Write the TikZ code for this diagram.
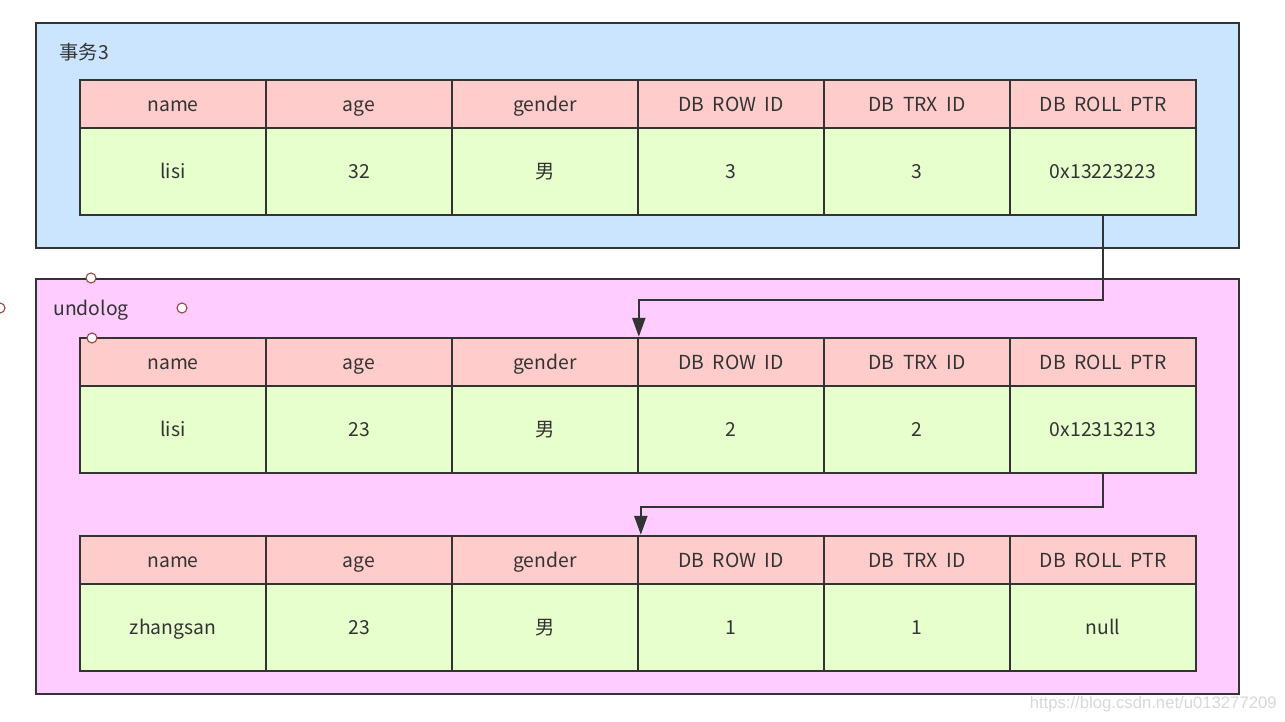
\documentclass[tikz,border=0pt]{standalone}
\usepackage{fontspec}
\setmainfont{Noto Sans CJK SC}
\newfontfamily\markfont{Liberation Sans}
\usepackage{tikz}
\usetikzlibrary{arrows.meta, positioning, calc}
\definecolor{trxblue}{RGB}{204,229,255}
\definecolor{undopink}{RGB}{255,204,255}
\definecolor{headred}{RGB}{255,204,204}
\definecolor{rowgreen}{RGB}{230,255,204}
\definecolor{linegray}{RGB}{51,51,51}
\definecolor{handlered}{RGB}{160,60,60}
\definecolor{markgray}{RGB}{215,215,215}

\begin{document}
\begin{tikzpicture}[
    frame/.style={rectangle, draw=linegray, line width=1.35pt, inner sep=0pt},
    head/.style={rectangle, draw=linegray, line width=1.35pt, fill=headred, minimum width=3.72cm, minimum height=0.96cm, inner sep=0pt, text height=1.8ex, text depth=0.3ex, font=\fontsize{11}{13}\selectfont, text=linegray},
    cell/.style={rectangle, draw=linegray, line width=1.35pt, fill=rowgreen, minimum width=3.72cm, minimum height=1.74cm, inner sep=0pt, text height=1.8ex, text depth=0.3ex, font=\fontsize{11}{13}\selectfont, text=linegray},
    title/.style={anchor=west, inner sep=0pt, font=\fontsize{11}{13}\selectfont, text=linegray},
    arrow/.style={-{Triangle[length=3.8mm, width=2.6mm]}, draw=linegray, line width=1.35pt},
    handle/.style={circle, draw=handlered, fill=white, line width=0.6pt, minimum size=0.2cm, inner sep=0pt}
]
\useasboundingbox (0,0) rectangle (25.7,-14.44);

% Transaction 3
\node[frame, fill=trxblue, minimum width=24.06cm, minimum height=4.5cm] (trx) at (12.75,-2.71) {};
\node[title] (trxlabel) at (1.18,-1.04) {事务3};

% Undo log
\node[frame, fill=undopink, minimum width=24.06cm, minimum height=8.3cm] (undo) at (12.75,-9.73) {};
\node[title] (undolabel) at (1.06,-6.2) {undolog};

% header rows
\foreach \t/\y in {1/-2.08, 2/-7.24, 3/-11.2} {
  \foreach \txt [count=\i] in {name, age, gender, DB\hspace{0.45em}ROW\hspace{0.45em}ID, DB\hspace{0.45em}TRX\hspace{0.45em}ID, DB\hspace{0.45em}ROLL\hspace{0.45em}PTR} {
    \node[head] (t\t h\i) at ({3.46+3.72*(\i-1)},\y) {\txt};
  }
}

% data rows
\foreach \txt [count=\i] in {lisi, 32, 男, 3, 3, 0x13223223}
  \node[cell] (t1d\i) at ({3.46+3.72*(\i-1)},-3.43) {\txt};
\foreach \txt [count=\i] in {lisi, 23, 男, 2, 2, 0x12313213}
  \node[cell] (t2d\i) at ({3.46+3.72*(\i-1)},-8.59) {\txt};
\foreach \txt [count=\i] in {zhangsan, 23, 男, 1, 1, null}
  \node[cell] (t3d\i) at ({3.46+3.72*(\i-1)},-12.55) {\txt};

% roll pointers
\draw[arrow] (t1d6.south) -- ++(0,-1.68) -| ($(t2h4.north west)+(0.04,0)$);
\draw[arrow] (t2d6.south) -- ++(0,-0.66) -| ($(t3h4.north west)+(0.08,0)$);

% selection handles
\node[handle] (h1) at (1.82,-5.56) {};
\node[handle] (h2) at (3.64,-6.16) {};
\node[handle] (h3) at (1.84,-6.76) {};
\node[handle] (h4) at (0.0,-6.16) {};

% watermark
\node[font=\markfont\fontsize{9.5}{11}\selectfont, text=markgray, inner sep=0pt, anchor=east] (mark) at (25.54,-14.08) {https://blog.csdn.net/u013277209};

\end{tikzpicture}
\end{document}
